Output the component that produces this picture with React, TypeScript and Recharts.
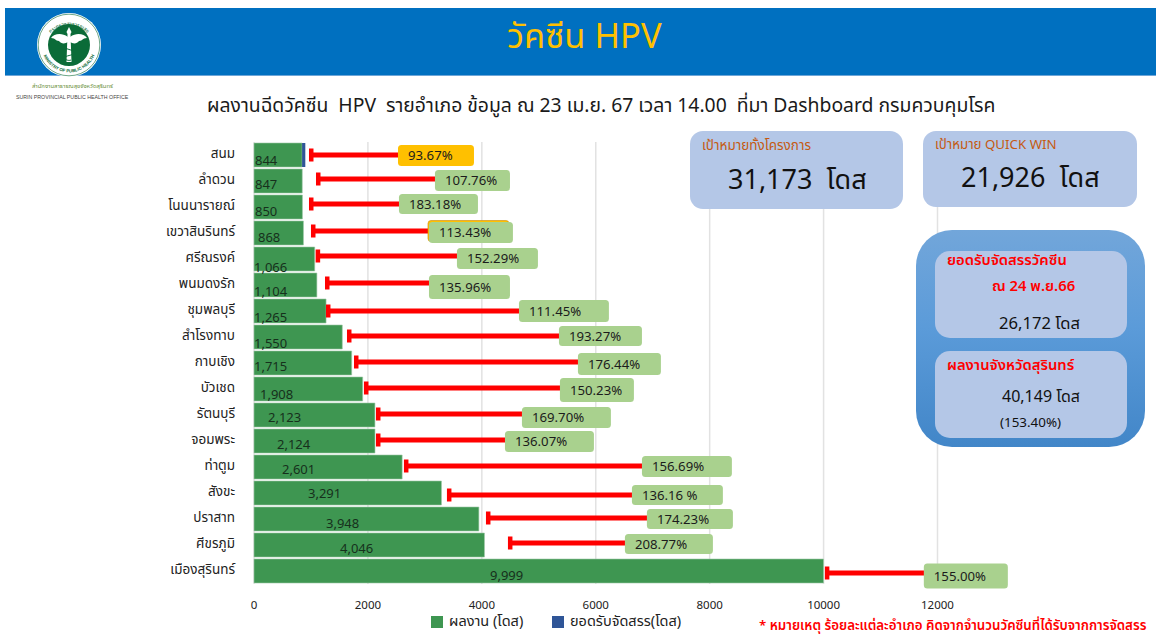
import React from "react";
import { ComposedChart, Bar, XAxis, YAxis, CartesianGrid, Legend, LabelList } from "recharts";

// ---------- data ----------
const districts = ["สนม","ลำดวน","โนนนารายณ์","เขวาสินรินทร์","ศรีณรงค์","พนมดงรัก","ชุมพลบุรี","สำโรงทาบ","กาบเชิง","บัวเชด","รัตนบุรี","จอมพระ","ท่าตูม","สังขะ","ปราสาท","ศีขรภูมิ","เมืองสุรินทร์"];
const doses = [844,847,850,868,1066,1104,1265,1550,1715,1908,2123,2124,2601,3291,3948,4046,9999];
const allocationGap = [57,0,0,0,0,0,0,0,0,0,0,0,0,0,0,0,0];
const percentLabels = ["93.67%","107.76%","183.18%","113.43%","152.29%","135.96%","111.45%","193.27%","176.44%","150.23%","169.70%","136.07%","156.69%","136.16 %","174.23%","208.77%","155.00%"];
const whiskerStart = [983,1106,983,1018,1100,1264,1281,1650,1773,1948,2159,2159,2650,3405,4090,4476,10040];
const tagStart = [2528,3177,2545,3072,3563,3072,4652,5354,5687,5371,4704,4406,6811,6635,6898,6512,11760];
const tagEnd = [3862,4494,3932,4546,4985,4494,6231,6811,7144,6670,6266,5968,8390,8232,8408,8057,13235];
const xTicks = [0,2000,4000,6000,8000,10000,12000];

const rows = districts.map((name, i) => ({
  name,
  doses: doses[i],
  gap: allocationGap[i],
  pct: percentLabels[i],
  whisker: whiskerStart[i],
  tagStart: tagStart[i],
  tagEnd: tagEnd[i],
}));

// ---------- layout nudges (pixels), kept apart from the data ----------
const tagDy = [0.5,-0.5,-3,-0.5,-0.5,2,0,-1,1,1,2.5,0.5,-0.5,2,0,-1,5];
const tagH = [21,21,20,21,21,24,22,20,22,24,21,21,21,20,20,20,25];
const redDy = [0,-2,-3,-2,-3,-2,0,-1,-1,-1,-1,-1,-1,2,-1,-2,2];
const valueX = [255,255,255,258,254,254,254,254,254,260,268,277,282,308,326,340,490];
const valueDy = [5,3,4,4,8,6,6,6,3,5,2,3,2,0,4,3,4];

const FONT = '"Noto Sans Thai","Noto Sans Thai UI",Tahoma,"Noto Sans","Open Sans",sans-serif';
const GREEN = "#3e9651";
const BLUE = "#2f5597";

const WhiskerTag = (p: any) => {
  const { x, y, width, height, payload, index } = p;
  const d = payload;
  const ppu = width / (d.tagStart - d.whisker);
  const left = x + width;
  const right = x + (d.tagEnd - d.whisker) * ppu;
  const cy = y + height / 2;
  const ry = cy + redDy[index];
  const h = tagH[index];
  const top = cy + tagDy[index] - h / 2;
  const fill = index === 0 ? "#ffc000" : "#a9d18e";
  return (
    <g>
      <rect x={x} y={ry - 2.5} width={left - x + 2} height={5} fill="#ff0000" />
      <rect x={x - 1} y={ry - 6.5} width={4.5} height={13} fill="#ff0000" />
      {index === 3 && <rect x={left - 1} y={top - 1.5} width={right - left - 3} height={h} rx={3} fill="#ffc000" stroke="#c98a10" strokeWidth={0.6} />}
      <rect x={left} y={top} width={right - left} height={h} rx={3.5} fill={fill} />
      <text x={left + 10} y={top + h / 2 + 4.5} fontSize={13.2} fill="#1c1c1c" fontFamily={FONT}>{d.pct}</text>
    </g>
  );
};

const ValueLabel = (p: any) => {
  const { y, height, index, value } = p;
  return (
    <text x={valueX[index]} y={y + height / 2 + valueDy[index] + 5} fontSize={13} fill="#16301c" fontFamily={FONT}>
      {Number(value).toLocaleString("en-US")}
    </text>
  );
};

const CategoryTick = (p: any) => (
  <text x={p.x} y={p.y + 3} textAnchor="end" fontSize={13.5} fill="#222" fontFamily={FONT}>
    {p.payload.value}
  </text>
);

const LegendBody = (p: any) => (
  <div style={{ display: "flex", fontFamily: FONT, fontSize: 14.5, color: "#222", lineHeight: "16px", whiteSpace: "nowrap" }}>
    {(p.payload || []).filter((it: any) => it.type !== "none" && it.value !== "tag").map((it: any, i: number) => (
      <div key={i} style={{ display: "flex", alignItems: "center", width: i === 0 ? 121 : 130 }}>
        <span style={{ width: 12, height: 12, background: it.color, marginRight: 6, display: "inline-block", flex: "none" }} />
        {it.value}
      </div>
    ))}
  </div>
);

const abs = (left: number, top: number, extra: React.CSSProperties = {}): React.CSSProperties => ({
  position: "absolute", left, top, whiteSpace: "pre", fontFamily: FONT, ...extra,
});

const Logo = () => (
  <svg width={70} height={70} viewBox="0 0 70 70" style={{ position: "absolute", left: 34, top: 10 }}>
    <circle cx={35} cy={35} r={32} fill="#ffffff" />
    <circle cx={35} cy={35} r={30.8} fill="none" stroke="#0b6b38" strokeWidth={0.6} />
    <circle cx={35} cy={35} r={21} fill="#0b6b38" />
    <defs>
      <path id="arcTop" d="M 9.5 38 A 25.7 25.7 0 0 1 60.5 38" />
      <path id="arcBot" d="M 7.5 38 A 27.7 27.7 0 0 0 62.5 38" />
    </defs>
    <text fontSize={5} fontWeight={500} fill="#0b6b38" fontFamily={FONT}>
      <textPath href="#arcTop" startOffset="50%" textAnchor="middle">กระทรวงสาธารณสุข</textPath>
    </text>
    <text fontSize={4.4} fontWeight={700} fill="#0b6b38" fontFamily="Liberation Sans">
      <textPath href="#arcBot" startOffset="50%" textAnchor="middle">MINISTRY OF PUBLIC HEALTH</textPath>
    </text>
    <path d="M35 17 l2.5 5 -1 2 1 28 -5 0 1 -28 -1 -2 z" fill="#fff" />
    <path d="M34 27 C27 22 20 24 17 28 C22 28 21 31 25 31 C27 34 31 34 34 32 z" fill="#fff" />
    <path d="M36 27 C43 22 50 24 53 28 C48 28 49 31 45 31 C43 34 39 34 36 32 z" fill="#fff" />
    <path d="M29 37 C34 40 41 40 40 43 C39 46 31 45 31 48 C31 50 35 51 37 50" fill="none" stroke="#0b6b38" strokeWidth={1} />
  </svg>
);

const card: React.CSSProperties = { position: "absolute", background: "#b4c7e7" };

export default function App() {
  return (
    <div style={{ position: "absolute", left: 0, top: 0, width: 1156, height: 635, overflow: "hidden", background: "#fff" }}>
      <div style={{ position: "absolute", left: 5, top: 8, width: 1151, height: 67, background: "#0070c0", borderBottom: "1.5px solid #6ea6d8" }} />
      <Logo />
      <div style={abs(507, 15, { fontSize: 34.5, color: "#ffc000", lineHeight: "46px" })}>วัคซีน HPV</div>
      <div style={abs(32, 82, { fontSize: 5.9, color: "#6a8f3a", lineHeight: "10px" })}>สำนักงานสาธารณสุขจังหวัดสุรินทร์</div>
      <div style={abs(16, 92, { fontSize: 5.25, color: "#444", lineHeight: "10px", fontFamily: "Liberation Sans" })}>SURIN PROVINCIAL PUBLIC HEALTH OFFICE</div>
      <div style={abs(207, 93, { fontSize: 19.35, color: "#1a1a1a", lineHeight: "26px" })}>ผลงานฉีดวัคซีน  HPV  รายอำเภอ ข้อมูล ณ 23 เม.ย. 67 เวลา 14.00  ที่มา Dashboard กรมควบคุมโรค</div>

      <div style={{ position: "absolute", left: 0, top: 0 }}>
        <ComposedChart
          width={1156}
          height={635}
          data={rows}
          layout="vertical"
          barSize={24}
          barGap={-24}
          barCategoryGap={1}
          margin={{ top: 142, right: 218.5, bottom: 21, left: 0 }}
        >
          <CartesianGrid horizontal={false} vertical stroke="#e2e2e2" strokeWidth={1.5} />
          <XAxis
            type="number"
            domain={[0, 12000]}
            ticks={xTicks}
            interval={0}
            height={30}
            axisLine={false}
            tickLine={false}
            tickSize={0}
            tickMargin={17}
            tick={{ fontSize: 11.5, fill: "#222", fontFamily: FONT }}
          />
          <YAxis
            type="category"
            dataKey="name"
            width={254}
            interval={0}
            axisLine={false}
            tickLine={false}
            tickSize={0}
            tickMargin={19}
            tick={CategoryTick}
          />
          <Legend
            align="center"
            verticalAlign="middle"
            content={LegendBody}
            wrapperStyle={{ left: 431, top: 614, width: 260, bottom: "auto", right: "auto", margin: 0 }}
          />
          <Bar dataKey="doses" name="ผลงาน (โดส)" stackId="a" fill={GREEN} stroke="#9cc7a6" strokeWidth={0.6} isAnimationActive={false}>
            <LabelList dataKey="doses" content={ValueLabel} />
          </Bar>
          <Bar dataKey="gap" name="ยอดรับจัดสรร(โดส)" stackId="a" fill={BLUE} isAnimationActive={false} />
          <Bar
            dataKey={(d: any) => [d.whisker, d.tagStart]}
            name="tag"
            legendType="none"
            shape={WhiskerTag}
            isAnimationActive={false}
          />
        </ComposedChart>
      </div>

      <div style={{ ...card, left: 690, top: 131, width: 213, height: 78, borderRadius: 13 }} />
      <div style={abs(702, 135, { fontSize: 13.5, color: "#c55a11", lineHeight: "22px" })}>เป้าหมายทั้งโครงการ</div>
      <div style={abs(728, 162, { fontSize: 27, color: "#111", lineHeight: "38px" })}>31,173  โดส</div>

      <div style={{ ...card, left: 923, top: 131, width: 214, height: 76, borderRadius: 13 }} />
      <div style={abs(935, 134, { fontSize: 13.3, color: "#c55a11", lineHeight: "22px" })}>เป้าหมาย QUICK WIN</div>
      <div style={abs(961, 160, { fontSize: 27, color: "#111", lineHeight: "38px" })}>21,926  โดส</div>

      <div style={{ position: "absolute", left: 916, top: 230, width: 229, height: 217, borderRadius: 36, background: "linear-gradient(#72a6da,#5b9bd9 45%,#4286c8)" }} />
      <div style={{ ...card, left: 935, top: 251, width: 192, height: 87, borderRadius: 15 }} />
      <div style={{ ...card, left: 935, top: 351, width: 192, height: 87, borderRadius: 15 }} />
      <div style={abs(947, 250, { fontSize: 14.8, fontWeight: 600, color: "#ff0000", lineHeight: "22px" })}>ยอดรับจัดสรรวัคซีน</div>
      <div style={abs(992, 276, { fontSize: 14.8, fontWeight: 600, color: "#ff0000", lineHeight: "22px" })}>ณ 24 พ.ย.66</div>
      <div style={abs(999, 312, { fontSize: 16.6, color: "#111", lineHeight: "24px" })}>26,172 โดส</div>
      <div style={abs(947, 355, { fontSize: 14.8, fontWeight: 600, color: "#ff0000", lineHeight: "22px" })}>ผลงานจังหวัดสุรินทร์</div>
      <div style={abs(1002, 385, { fontSize: 16, color: "#111", lineHeight: "24px" })}>40,149 โดส</div>
      <div style={abs(1000, 413, { fontSize: 13.4, color: "#111", lineHeight: "20px" })}>(153.40%)</div>

      <div style={abs(759, 617, { fontSize: 13.3, fontWeight: 600, color: "#ff0000", lineHeight: "18px" })}>* หมายเหตุ ร้อยละแต่ละอำเภอ คิดจากจำนวนวัคซีนที่ได้รับจากการจัดสรร</div>
    </div>
  );
}
